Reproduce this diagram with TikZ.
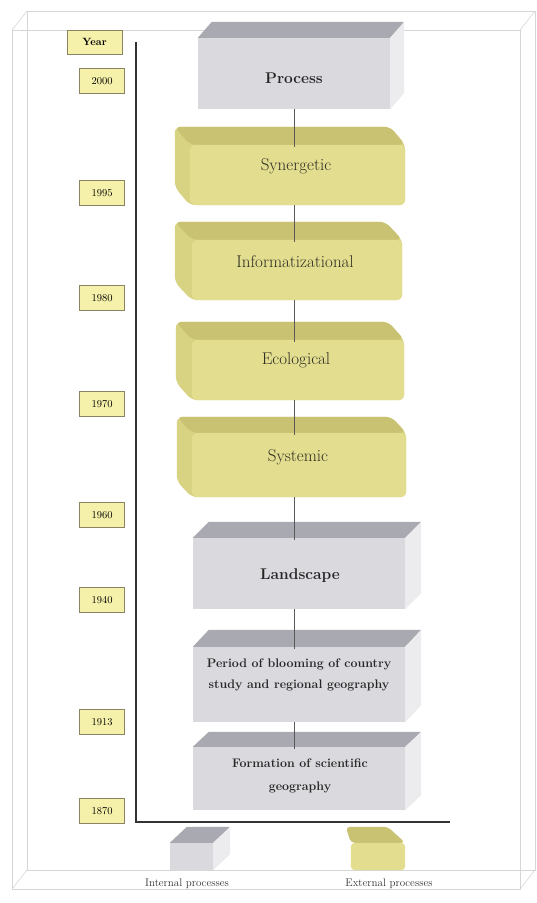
\documentclass[tikz,border=0pt]{standalone}

\definecolor{greyfront}{HTML}{D9D9DE}
\definecolor{greytop}{HTML}{A9A9B1}
\definecolor{greyside}{HTML}{ECECEF}
\definecolor{yelfront}{HTML}{E2DD8F}
\definecolor{yeltop}{HTML}{C9C272}
\definecolor{yelside}{HTML}{D8D283}
\definecolor{yearfill}{HTML}{F6F1AA}
\definecolor{yearline}{HTML}{8A8462}
\definecolor{framegrey}{HTML}{D6D6D6}
\definecolor{yeltext}{HTML}{2F2E24}

\tikzset{
    yearbox/.style={draw=yearline, fill=yearfill, line width=0.8pt, minimum width=45pt,
        minimum height=25pt, inner sep=0pt, font=\fontsize{10.5}{12}\selectfont},
    gfront/.style={fill=greyfront, inner sep=0pt},
    gtopface/.style={fill=greytop},
    gsideface/.style={fill=greyside},
    yfront/.style={inner sep=0pt},
    yfrontface/.style={fill=yelfront, rounded corners=6pt},
    ytopface/.style={fill=yeltop, rounded corners=6pt},
    ysideface/.style={fill=yelside, rounded corners=6pt},
    gtext/.style={font=\bfseries\fontsize{15.5}{19}\selectfont, text=black!85},
    gsmall/.style={font=\bfseries\fontsize{12.4}{21}\selectfont, align=center, text=black!85},
    ytext/.style={font=\fontsize{17}{20}\selectfont, text=yeltext},
    legendtext/.style={font=\fontsize{11}{13}\selectfont, text=black!80},
    link/.style={draw=black!65, line width=0.9pt},
}

\begin{document}
\begin{tikzpicture}[x=1pt, y=-1pt]
    \useasboundingbox (0,0) rectangle (536,903);

    % Outer frame (transparent box)
    \draw[framegrey, line width=0.6pt] (12,30) rectangle (520,889);
    \draw[framegrey, line width=0.6pt] (27,11) rectangle (535,870);
    \draw[framegrey, line width=0.6pt] (12,30) -- (27,11) (520,30) -- (535,11)
        (12,889) -- (27,870) (520,889) -- (535,870);

    % Year column
    \node (yhead) at (94.5,42) [yearbox, minimum width=55pt, minimum height=24pt,
        font=\bfseries\fontsize{10.5}{12}\selectfont] {Year};
    \foreach \yr/\yy in {2000/81, 1995/193, 1980/298, 1970/404, 1960/515, 1940/600, 1913/722, 1870/811}
        \node (y\yr) at (102,\yy) [yearbox] {\yr};

    % Axis
    \coordinate (axtop) at (136,42);
    \coordinate (axend) at (450,822);
    \draw[black!80, line width=2pt] (axtop) |- (axend);

    % Process (top)
    \node (proc) at (294,73.5) [gfront, minimum width=192pt, minimum height=71pt] {};
    \fill[gtopface] (proc.north west) -- ++(14,-16) -- ([shift={(14,-16)}]proc.north east) -- (proc.north east) -- cycle;
    \fill[gsideface] (proc.north east) -- ++(14,-16) -- ([shift={(14,-16)}]proc.south east) -- (proc.south east) -- cycle;

    % Synergetic
    \node (syn) at (297.5,175) [yfront, minimum width=215pt, minimum height=60pt] {};
    \fill[ysideface] ([shift={(-15,-18)}]syn.north west) -- ([shift={(-15,-18)}]syn.north east) -- (syn.north east)
        -- (syn.south east) -- (syn.south west) -- ([shift={(-15,-18)}]syn.south west) -- cycle;
    \fill[ytopface] ([shift={(-15,-18)}]syn.north west) -- ([shift={(-15,-18)}]syn.north east) -- (syn.north east) -- (syn.north west) -- cycle;
    \fill[yfrontface] (syn.north west) rectangle (syn.south east);

    % Informatizational
    \node (info) at (297,270) [yfront, minimum width=210pt, minimum height=60pt] {};
    \fill[ysideface] ([shift={(-17,-18)}]info.north west) -- ([shift={(-17,-18)}]info.north east) -- (info.north east)
        -- (info.south east) -- (info.south west) -- ([shift={(-17,-18)}]info.south west) -- cycle;
    \fill[ytopface] ([shift={(-17,-18)}]info.north west) -- ([shift={(-17,-18)}]info.north east) -- (info.north east) -- (info.north west) -- cycle;
    \fill[yfrontface] (info.north west) rectangle (info.south east);

    % Ecological
    \node (eco) at (298,370) [yfront, minimum width=212pt, minimum height=60pt] {};
    \fill[ysideface] ([shift={(-16,-18)}]eco.north west) -- ([shift={(-16,-18)}]eco.north east) -- (eco.north east)
        -- (eco.south east) -- (eco.south west) -- ([shift={(-16,-18)}]eco.south west) -- cycle;
    \fill[ytopface] ([shift={(-16,-18)}]eco.north west) -- ([shift={(-16,-18)}]eco.north east) -- (eco.north east) -- (eco.north west) -- cycle;
    \fill[yfrontface] (eco.north west) rectangle (eco.south east);

    % Systemic
    \node (sys) at (299,465) [yfront, minimum width=214pt, minimum height=64pt] {};
    \fill[ysideface] ([shift={(-15,-16)}]sys.north west) -- ([shift={(-15,-16)}]sys.north east) -- (sys.north east)
        -- (sys.south east) -- (sys.south west) -- ([shift={(-15,-16)}]sys.south west) -- cycle;
    \fill[ytopface] ([shift={(-15,-16)}]sys.north west) -- ([shift={(-15,-16)}]sys.north east) -- (sys.north east) -- (sys.north west) -- cycle;
    \fill[yfrontface] (sys.north west) rectangle (sys.south east);

    % Landscape
    \node (land) at (299,573.5) [gfront, minimum width=212pt, minimum height=71pt] {};
    \fill[gtopface] (land.north west) -- ++(16,-16) -- ([shift={(16,-16)}]land.north east) -- (land.north east) -- cycle;
    \fill[gsideface] (land.north east) -- ++(16,-16) -- ([shift={(16,-16)}]land.south east) -- (land.south east) -- cycle;

    % Period of blooming
    \node (period) at (299,684.5) [gfront, minimum width=212pt, minimum height=75pt] {};
    \fill[gtopface] (period.north west) -- ++(16,-17) -- ([shift={(16,-17)}]period.north east) -- (period.north east) -- cycle;
    \fill[gsideface] (period.north east) -- ++(16,-17) -- ([shift={(16,-17)}]period.south east) -- (period.south east) -- cycle;

    % Formation of scientific geography
    \node (form) at (299,778.5) [gfront, minimum width=212pt, minimum height=63pt] {};
    \fill[gtopface] (form.north west) -- ++(16,-15) -- ([shift={(16,-15)}]form.north east) -- (form.north east) -- cycle;
    \fill[gsideface] (form.north east) -- ++(16,-15) -- ([shift={(16,-15)}]form.south east) -- (form.south east) -- cycle;

    % Links between stages
    \foreach \a/\b in {proc/syn, syn/info, info/eco, eco/sys, sys/land, land/period, period/form}
        \draw[link] (proc.south |- \a.south) -- ([yshift=-2pt]proc.south |- \b.north);

    % Labels
    \node (proctxt) at (294,78) [gtext] {Process};
    \node (syntxt) at (296,166) [ytext] {Synergetic};
    \node (infotxt) at (295,262) [ytext] {Informatizational};
    \node (ecotxt) at (296,360) [ytext] {Ecological};
    \node (systxt) at (298,457) [ytext] {Systemic};
    \node (landtxt) at (300,576) [gtext] {Landscape};
    \node (periodtxt) at (299,675) [gsmall] {Period of blooming of country\\study and regional geography};
    \node (formtxt) at (300,776) [gsmall, font=\bfseries\fontsize{12.4}{23}\selectfont] {Formation of scientific\\geography};

    % Legend
    \node (lgint) at (191.5,856.5) [gfront, minimum width=43pt, minimum height=27pt] {};
    \fill[gtopface] (lgint.north west) -- ++(17,-16) -- ([shift={(17,-16)}]lgint.north east) -- (lgint.north east) -- cycle;
    \fill[gsideface] (lgint.north east) -- ++(17,-16) -- ([shift={(17,-16)}]lgint.south east) -- (lgint.south east) -- cycle;
    \node (lginttxt) at (187,884) [legendtext] {Internal processes};

    \node (lgext) at (378,856.5) [yfront, minimum width=54pt, minimum height=27pt] {};
    \fill[ytopface, rounded corners=4pt] (lgext.north west) -- ++(-5,-16) -- ++(42,0) -- (lgext.north east) -- cycle;
    \fill[yfrontface, rounded corners=4pt] (lgext.north west) rectangle (lgext.south east);
    \node (lgexttxt) at (389,884) [legendtext] {External processes};

\end{tikzpicture}
\end{document}
